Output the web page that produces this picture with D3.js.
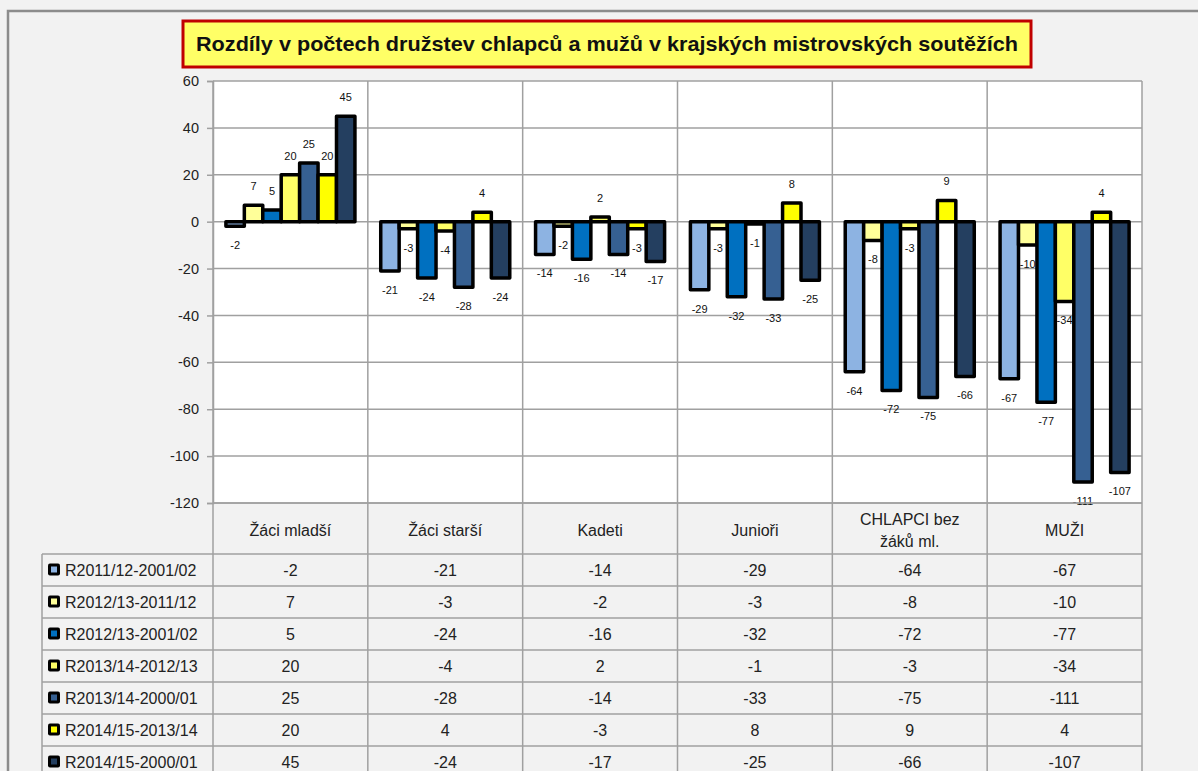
<!DOCTYPE html>
<html>
<head>
<meta charset="utf-8">
<script src="https://cdn.jsdelivr.net/npm/d3@7"></script>
<style>
  body { margin: 0; background: #f2f2f2; }
  svg { display: block; font-family: "Liberation Sans", Arial, sans-serif; }
</style>
</head>
<body>
<svg id="chart"></svg>
<script>
const title = "Rozdíly v počtech družstev chlapců a mužů v krajských mistrovských soutěžích";

const categories = ["Žáci mladší", "Žáci starší", "Kadeti", "Junioři", "CHLAPCI bez žáků ml.", "MUŽI"];
const categoryLines = [["Žáci mladší"], ["Žáci starší"], ["Kadeti"], ["Junioři"], ["CHLAPCI bez", "žáků ml."], ["MUŽI"]];

const seriesNames = [
    "R2011/12-2001/02",
    "R2012/13-2011/12",
    "R2012/13-2001/02",
    "R2013/14-2012/13",
    "R2013/14-2000/01",
    "R2014/15-2013/14",
    "R2014/15-2000/01"
];
const seriesColors = ["#8db3e2", "#ffff99", "#0070c0", "#ffff66", "#366092", "#ffff00", "#243f60"];

const r2011_2001 = [-2, -21, -14, -29, -64, -67];
const r2012_2011 = [7, -3, -2, -3, -8, -10];
const r2012_2001 = [5, -24, -16, -32, -72, -77];
const r2013_2012 = [20, -4, 2, -1, -3, -34];
const r2013_2000 = [25, -28, -14, -33, -75, -111];
const r2014_2013 = [20, 4, -3, 8, 9, 4];
const r2014_2000 = [45, -24, -17, -25, -66, -107];

const yTicks = [60, 40, 20, 0, -20, -40, -60, -80, -100, -120];

const seriesValues = [r2011_2001, r2012_2011, r2012_2001, r2013_2012, r2013_2000, r2014_2013, r2014_2000];

const width = 1198;
const height = 771;
const plot = { left: 213, right: 1142, top: 81, bottom: 503 };
const headerBottom = 554;
const rowH = 32;
const tableLeft = 42;
const gridColor = "#a0a0a0";

const svg = d3.select("#chart")
    .attr("width", width)
    .attr("height", height);

// outer frame
svg.append("rect")
    .attr("x", 8).attr("y", 11)
    .attr("width", width + 20).attr("height", height + 20)
    .attr("fill", "#f2f2f2")
    .attr("stroke", "#8c8c8c")
    .attr("stroke-width", 2.5);

// title box
svg.append("rect")
    .attr("x", 183).attr("y", 21)
    .attr("width", 848).attr("height", 46)
    .attr("fill", "#ffff66")
    .attr("stroke", "#c00000")
    .attr("stroke-width", 3);

svg.append("text")
    .attr("x", 607).attr("y", 51)
    .attr("text-anchor", "middle")
    .attr("font-size", "21px")
    .attr("font-weight", "bold")
    .attr("fill", "#111")
    .attr("textLength", 822)
    .attr("lengthAdjust", "spacingAndGlyphs")
    .text(title);

const x = d3.scaleBand()
    .domain(categories)
    .range([plot.left, plot.right]);

const x1 = d3.scaleBand()
    .domain(seriesNames)
    .range([0, x.bandwidth()])
    .paddingInner(0)
    .paddingOuter(0.7);

const y = d3.scaleLinear()
    .domain([-120, 60])
    .range([plot.bottom, plot.top]);

// plot area
svg.append("rect")
    .attr("x", plot.left).attr("y", plot.top)
    .attr("width", plot.right - plot.left)
    .attr("height", plot.bottom - plot.top)
    .attr("fill", "#fff");

// horizontal gridlines
svg.append("g")
    .selectAll("line")
    .data(yTicks)
    .join("line")
    .attr("x1", plot.left).attr("x2", plot.right)
    .attr("y1", d => y(d)).attr("y2", d => y(d))
    .attr("stroke", gridColor)
    .attr("stroke-width", 1.5);

// y axis
const yAxis = svg.append("g")
    .attr("transform", `translate(${plot.left},0)`)
    .call(d3.axisLeft(y).tickValues(yTicks).tickFormat(d => String(d)).tickSize(6).tickPadding(8));
yAxis.select(".domain").attr("stroke", gridColor).attr("stroke-width", 1.5);
yAxis.selectAll(".tick line").attr("stroke", gridColor).attr("stroke-width", 1.5);
yAxis.selectAll("text")
    .attr("font-size", "14.5px")
    .attr("font-family", "Liberation Sans, Arial, sans-serif")
    .attr("fill", "#222");

// vertical category separators through plot and table
const bounds = categories.map(c => x(c)).concat([plot.right]);
svg.append("g")
    .selectAll("line")
    .data(bounds)
    .join("line")
    .attr("x1", d => d).attr("x2", d => d)
    .attr("y1", plot.top).attr("y2", height + 10)
    .attr("stroke", gridColor)
    .attr("stroke-width", 1.5);

// bars
const groups = svg.append("g")
    .selectAll("g")
    .data(categories)
    .join("g")
    .attr("transform", c => `translate(${x(c)},0)`);

groups.append("line")
    .attr("x1", x1(seriesNames[0]))
    .attr("x2", x1(seriesNames[6]) + x1.bandwidth())
    .attr("y1", y(0)).attr("y2", y(0))
    .attr("stroke", "#404040")
    .attr("stroke-width", 2.5);

groups.selectAll("rect")
    .data((c, i) => seriesNames.map((s, j) => ({ series: s, color: seriesColors[j], value: seriesValues[j][i] })))
    .join("rect")
    .attr("x", d => x1(d.series))
    .attr("width", x1.bandwidth())
    .attr("y", d => y(Math.max(0, d.value)))
    .attr("height", d => Math.abs(y(d.value) - y(0)))
    .attr("fill", d => d.color)
    .attr("stroke", "#000")
    .attr("stroke-width", 3.5)
    .attr("stroke-linejoin", "round");

groups.selectAll("text.lbl")
    .data((c, i) => seriesNames.map((s, j) => ({ series: s, value: seriesValues[j][i] })))
    .join("text")
    .attr("class", "lbl")
    .attr("x", d => x1(d.series) + x1.bandwidth() / 2)
    .attr("y", d => d.value >= 0 ? y(d.value) - 19 : y(d.value) + 19)
    .attr("dy", "0.35em")
    .attr("text-anchor", "middle")
    .attr("font-size", "11px")
    .attr("fill", "#111")
    .text(d => d.value);

// table header row
const header = svg.append("g");
header.append("line")
    .attr("x1", plot.left).attr("x2", plot.right)
    .attr("y1", plot.bottom).attr("y2", plot.bottom)
    .attr("stroke", gridColor).attr("stroke-width", 1.5);

categories.forEach((c, i) => {
    const lines = categoryLines[i];
    const cy = (plot.bottom + headerBottom) / 2 + 2;
    lines.forEach((ln, k) => {
        header.append("text")
            .attr("x", x(c) + x.bandwidth() / 2)
            .attr("y", cy + (k - (lines.length - 1) / 2) * 22)
            .attr("dy", "0.35em")
            .attr("text-anchor", "middle")
            .attr("font-size", "16px")
            .attr("fill", "#222")
            .text(ln);
    });
});

// table rows
const rowY = d3.scaleBand()
    .domain(seriesNames)
    .range([headerBottom, headerBottom + rowH * seriesNames.length]);

const table = svg.append("g");
table.selectAll("line.row")
    .data(seriesNames.concat(["end"]))
    .join("line")
    .attr("class", "row")
    .attr("x1", tableLeft).attr("x2", plot.right)
    .attr("y1", (d, i) => headerBottom + i * rowH)
    .attr("y2", (d, i) => headerBottom + i * rowH)
    .attr("stroke", gridColor).attr("stroke-width", 1.5);

table.append("line")
    .attr("x1", tableLeft).attr("x2", tableLeft)
    .attr("y1", headerBottom).attr("y2", height + 10)
    .attr("stroke", gridColor).attr("stroke-width", 1.5);

const rows = table.selectAll("g.r")
    .data(seriesNames)
    .join("g")
    .attr("class", "r")
    .attr("transform", s => `translate(0,${rowY(s) + rowY.bandwidth() / 2})`);

rows.append("rect")
    .attr("x", 48).attr("y", -6.5)
    .attr("width", 12).attr("height", 12)
    .attr("rx", 2)
    .attr("fill", "#000");
rows.append("rect")
    .attr("x", 51).attr("y", -3.5)
    .attr("width", 6).attr("height", 6)
    .attr("fill", (s, j) => seriesColors[j]);

rows.append("text")
    .attr("x", 65)
    .attr("dy", "0.35em")
    .attr("font-size", "16px")
    .attr("fill", "#222")
    .text(s => s);

rows.selectAll("text.v")
    .data((s, j) => categories.map((c, i) => ({ cat: c, value: seriesValues[j][i] })))
    .join("text")
    .attr("class", "v")
    .attr("x", d => x(d.cat) + x.bandwidth() / 2)
    .attr("dy", "0.35em")
    .attr("text-anchor", "middle")
    .attr("font-size", "16px")
    .attr("fill", "#222")
    .text(d => d.value);
</script>
</body>
</html>
